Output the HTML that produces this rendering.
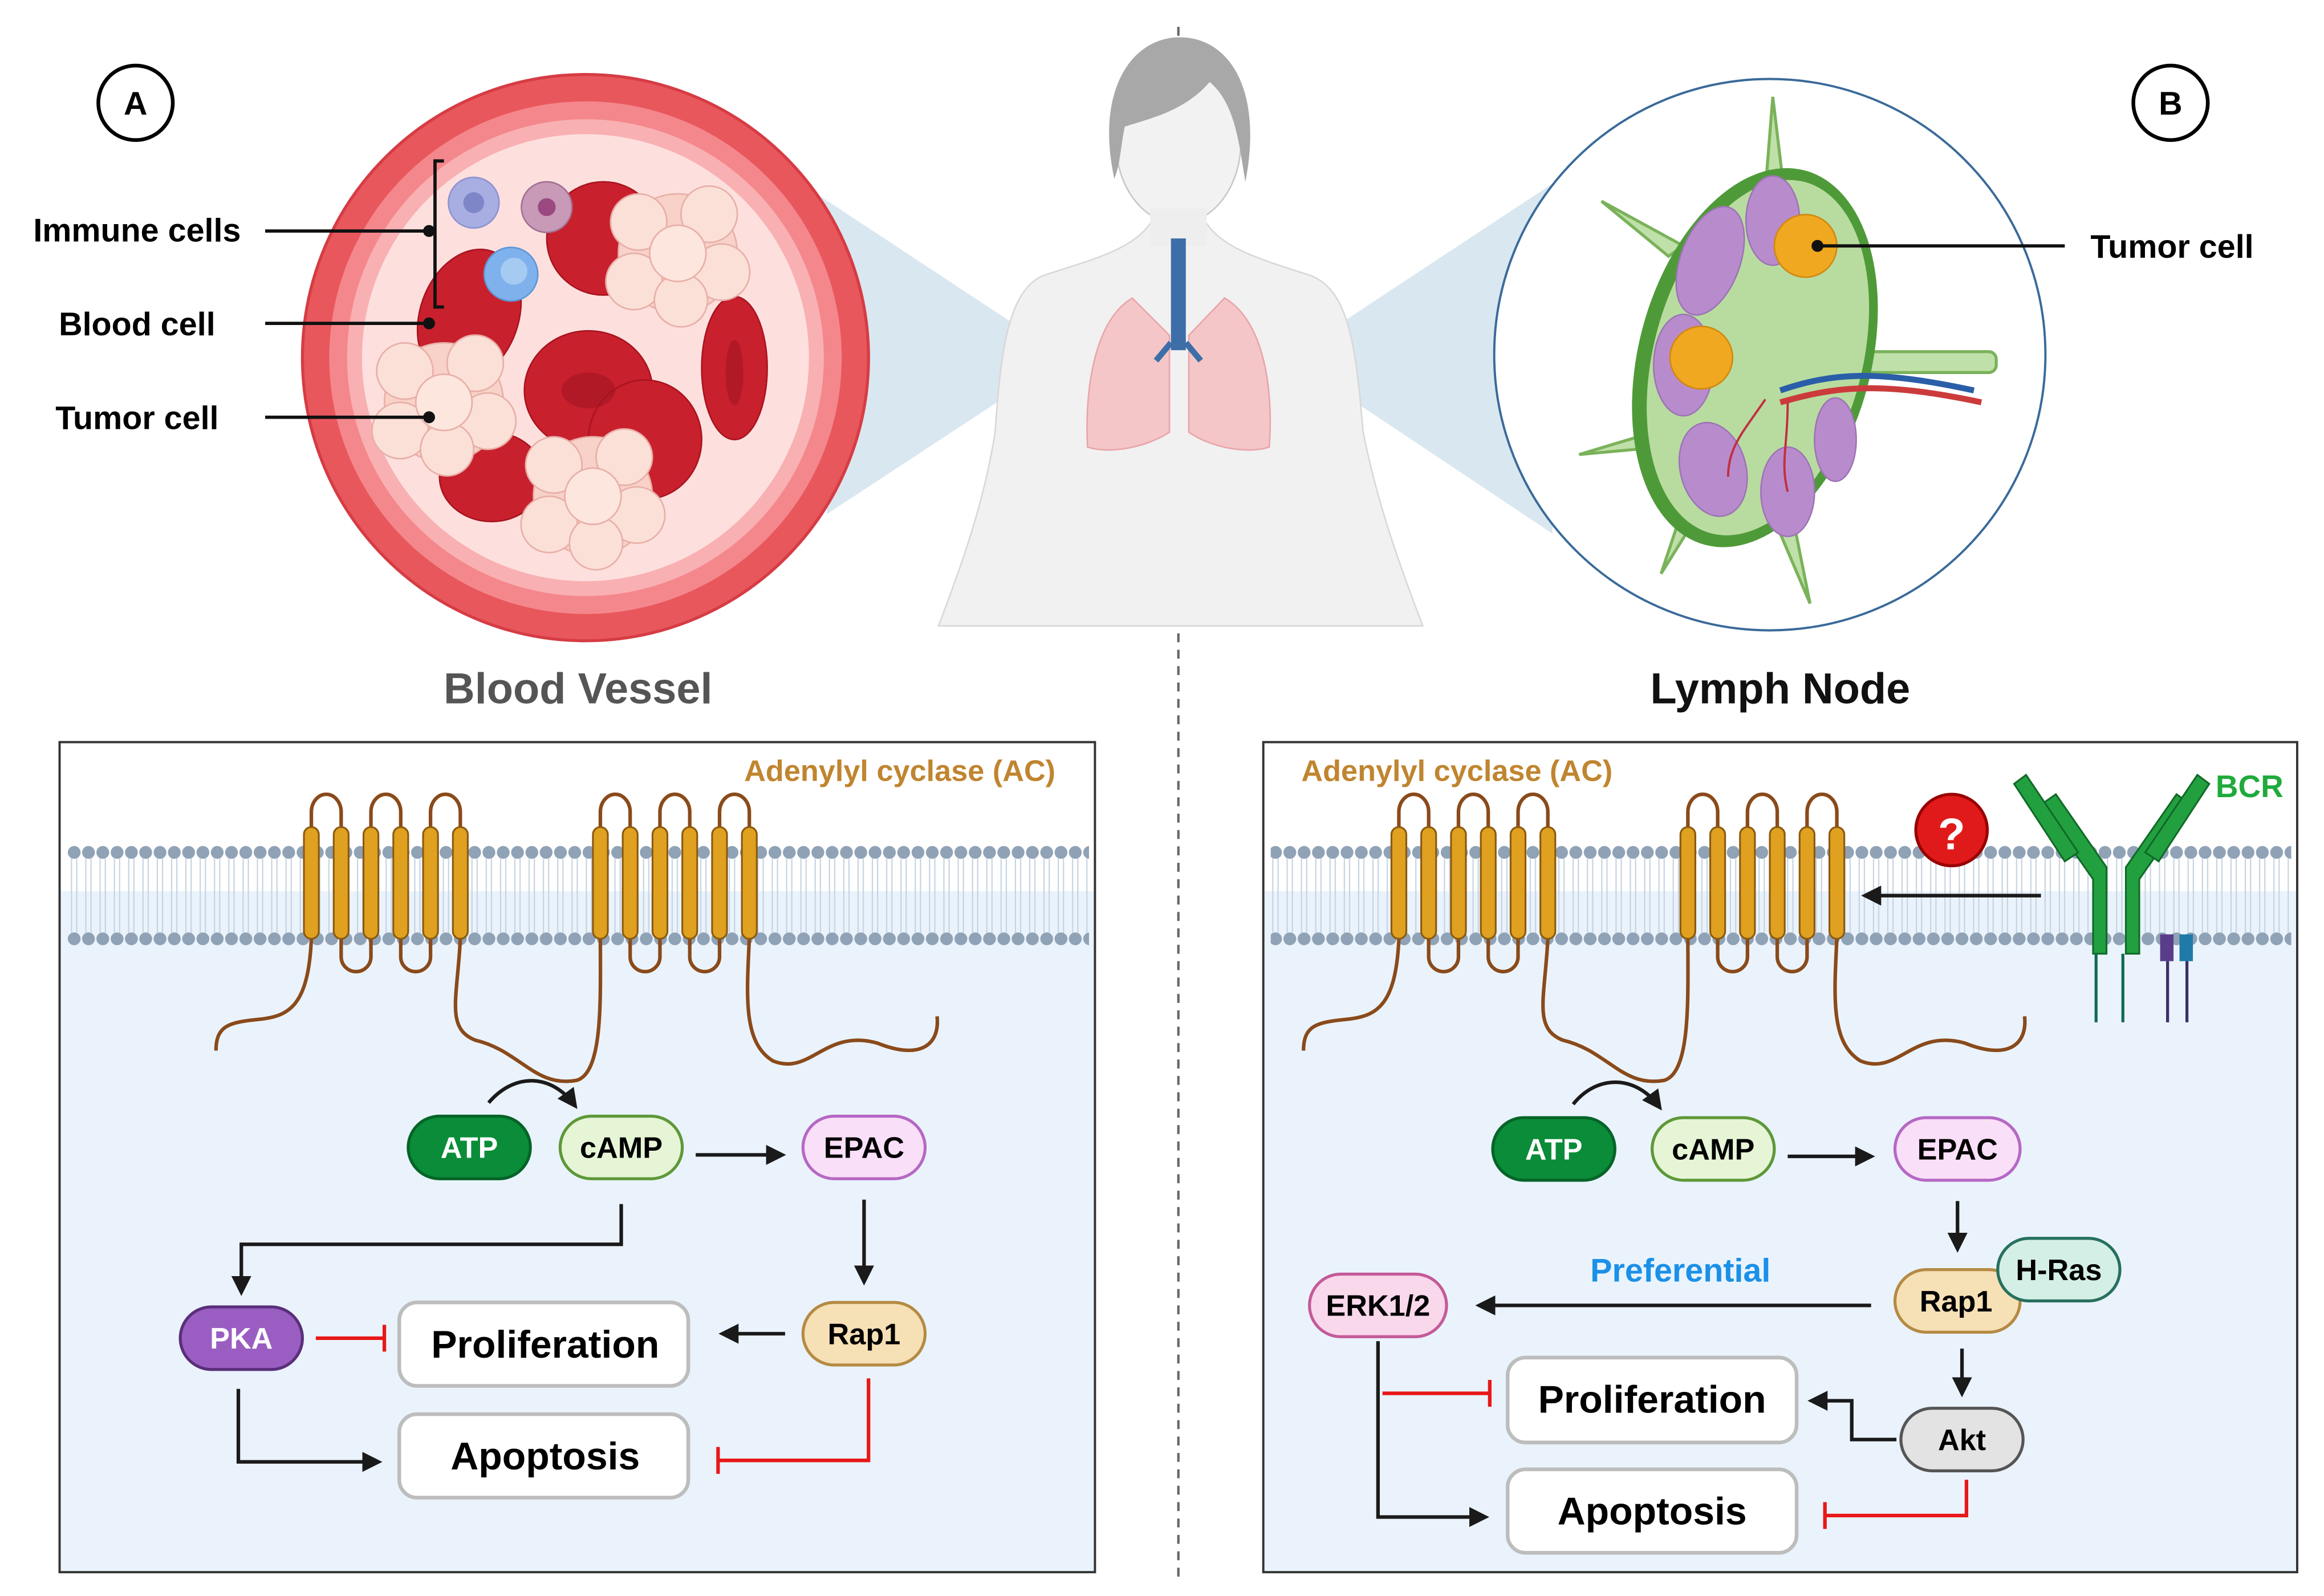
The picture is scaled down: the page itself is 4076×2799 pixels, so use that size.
<!DOCTYPE html>
<html><head><meta charset="utf-8"><style>
html,body{margin:0;padding:0;background:#fff;}
svg{display:block;}
text{font-family:"Liberation Sans Narrow","Liberation Sans",sans-serif;font-weight:bold;}
</style></head><body>
<svg width="4076" height="2799" viewBox="0 0 1560 1071" preserveAspectRatio="none" xmlns="http://www.w3.org/2000/svg">
<defs>
<pattern id="dots" x="45" y="0" width="9.6" height="1071" patternUnits="userSpaceOnUse">
<line x1="3" y1="576" x2="3" y2="626" stroke="#c4d2e0" stroke-width="0.8"/>
<line x1="6.5" y1="576" x2="6.5" y2="626" stroke="#c4d2e0" stroke-width="0.8"/>
<circle cx="4.8" cy="572" r="4.3" fill="#8fa2b6"/>
<circle cx="4.8" cy="630" r="4.3" fill="#8fa2b6"/>
</pattern>
<marker id="ah" viewBox="0 0 10 10" refX="8" refY="5" markerWidth="5.6" markerHeight="5.6" orient="auto"><path d="M0,0 L10,5 L0,10 z" fill="#1a1a1a"/></marker>
<g id="ac" stroke="#8a4a1a" stroke-width="2.4" fill="none">
<path d="M0,555 L0,545 A10,12 0 0 1 20,545 L20,555"/>
<path d="M40,555 L40,545 A10,12 0 0 1 60,545 L60,555"/>
<path d="M80,555 L80,545 A10,12 0 0 1 100,545 L100,555"/>
<path d="M20,630 L20,642 A10,10 0 0 0 40,642 L40,630"/>
<path d="M60,630 L60,642 A10,10 0 0 0 80,642 L80,630"/>
<path d="M194,555 L194,545 A10,12 0 0 1 214,545 L214,555"/>
<path d="M234,555 L234,545 A10,12 0 0 1 254,545 L254,555"/>
<path d="M274,555 L274,545 A10,12 0 0 1 294,545 L294,555"/>
<path d="M214,630 L214,642 A10,10 0 0 0 234,642 L234,630"/>
<path d="M254,630 L254,642 A10,10 0 0 0 274,642 L274,630"/>
<path d="M0,630 C-2,675 -15,682 -35,684 C-55,686 -64,688 -64,705"/>
<path d="M100,630 C98,670 90,690 110,698 C140,705 150,730 178,725 C196,720 194,670 194,630"/>
<path d="M294,630 C292,670 290,700 310,712 C335,722 345,690 380,700 C410,712 422,700 420,682"/>
<g fill="#e0a020" stroke="#8a5a10" stroke-width="1.2">
<rect x="-5" y="555" width="10" height="75" rx="5"/><rect x="15" y="555" width="10" height="75" rx="5"/><rect x="35" y="555" width="10" height="75" rx="5"/><rect x="55" y="555" width="10" height="75" rx="5"/><rect x="75" y="555" width="10" height="75" rx="5"/><rect x="95" y="555" width="10" height="75" rx="5"/>
<rect x="189" y="555" width="10" height="75" rx="5"/><rect x="209" y="555" width="10" height="75" rx="5"/><rect x="229" y="555" width="10" height="75" rx="5"/><rect x="249" y="555" width="10" height="75" rx="5"/><rect x="269" y="555" width="10" height="75" rx="5"/><rect x="289" y="555" width="10" height="75" rx="5"/>
</g>
</g>
<g id="tumor" stroke="#e8b0a8" stroke-width="1">
<circle cx="0" cy="0" r="38" fill="#f8d2c8"/>
<circle cx="-25" cy="-20" r="18" fill="#fbe0d8"/><circle cx="20" cy="-25" r="18" fill="#fbe0d8"/><circle cx="28" cy="12" r="18" fill="#fbe0d8"/><circle cx="-28" cy="18" r="18" fill="#fbe0d8"/><circle cx="2" cy="30" r="17" fill="#fbe0d8"/><circle cx="0" cy="0" r="18" fill="#fde6de"/>
</g>
</defs>

<line x1="791" y1="18" x2="791" y2="1062" stroke="#666" stroke-width="1.6" stroke-dasharray="6,5"/>

<polygon points="545,128 715,240 555,345" fill="#cfe1ec" opacity="0.8"/>
<polygon points="1050,118 865,240 1042,358" fill="#cfe1ec" opacity="0.8"/>

<path d="M700,185 C730,175 760,168 772,150 L810,150 C822,168 850,175 880,185 C905,195 910,230 915,290 C925,340 940,380 955,420 L630,420 C645,380 660,340 668,290 C672,230 678,195 700,185 Z" fill="#f1f1f1" stroke="#d8d8d8" stroke-width="1"/>
<ellipse cx="791" cy="95" rx="42" ry="55" fill="#f2f2f2" stroke="#c8c8c8"/>
<path d="M748,120 C735,60 760,25 792,25 C825,25 848,60 836,122 C832,100 830,70 812,55 C795,75 770,80 755,85 C752,100 752,110 748,120 Z" fill="#a8a8a8"/>
<path d="M772,140 L772,165 L810,165 L810,140" fill="#eee"/>
<path d="M760,200 C735,215 728,260 730,300 C745,305 770,300 785,290 L785,225 Z" fill="#f4c6c8" stroke="#e9a5aa"/>
<path d="M822,200 C848,215 855,260 852,300 C837,305 812,300 798,290 L798,225 Z" fill="#f4c6c8" stroke="#e9a5aa"/>
<rect x="786" y="160" width="10" height="75" fill="#3d6ea8"/>
<path d="M786,230 L776,242 M796,230 L806,242" stroke="#3d6ea8" stroke-width="4"/>

<circle cx="393" cy="240" r="190" fill="#e8575c" stroke="#d63c44" stroke-width="2"/>
<circle cx="393" cy="240" r="172" fill="#f4878c"/>
<circle cx="393" cy="240" r="160" fill="#f9b0b2"/>
<circle cx="393" cy="240" r="150" fill="#fde0de"/>
<g fill="#c9202e" stroke="#a8141f">
<ellipse cx="315" cy="212" rx="33" ry="46" transform="rotate(20 315 212)"/>
<ellipse cx="405" cy="160" rx="38" ry="38"/>
<ellipse cx="395" cy="262" rx="43" ry="40"/>
<ellipse cx="493" cy="247" rx="22" ry="48"/>
<ellipse cx="433" cy="295" rx="38" ry="40"/>
<ellipse cx="330" cy="320" rx="35" ry="30"/>
</g>
<g fill="#9c1220" opacity="0.5"><ellipse cx="395" cy="262" rx="18" ry="12"/><ellipse cx="493" cy="250" rx="6" ry="22"/></g>
<use href="#tumor" transform="translate(455,170) scale(1.05)"/>
<use href="#tumor" transform="translate(298,270) scale(1.05)"/>
<use href="#tumor" transform="translate(398,333) scale(1.05)"/>
<circle cx="318" cy="136" r="17" fill="#a9aee2" stroke="#8c93d0"/><circle cx="318" cy="136" r="7" fill="#7e86c8"/>
<circle cx="367" cy="139" r="17" fill="#c99ab8" stroke="#a07090"/><circle cx="367" cy="139" r="6" fill="#9a4a80"/>
<circle cx="343" cy="184" r="18" fill="#7fb2ec" stroke="#5d97d6"/><circle cx="345" cy="182" r="9" fill="#a6cbf2"/>

<circle cx="91" cy="69" r="25" fill="#fff" stroke="#000" stroke-width="2.5"/>
<text x="91" y="77" font-size="22" text-anchor="middle">A</text>
<text x="92" y="162" font-size="22" text-anchor="middle">Immune cells</text>
<text x="92" y="225" font-size="22" text-anchor="middle">Blood cell</text>
<text x="92" y="288" font-size="22" text-anchor="middle">Tumor cell</text>
<g stroke="#111" stroke-width="2.2" fill="none">
<path d="M178,155 L288,155 M178,217 L288,217 M178,280 L288,280"/>
<path d="M298,108 L292,108 L292,206 L298,206"/>
</g>
<circle cx="288" cy="155" r="4" fill="#111"/><circle cx="288" cy="217" r="4" fill="#111"/><circle cx="288" cy="280" r="4" fill="#111"/>
<text x="388" y="472" font-size="29" text-anchor="middle" fill="#555">Blood Vessel</text>

<ellipse cx="1188" cy="238" rx="185" ry="185" fill="#fff" stroke="#3a6a9a" stroke-width="1.5"/>
<g stroke="#7ab25a" stroke-width="2" fill="#bfe0a8">
<path d="M1190,65 L1196,115 L1186,115 Z"/>
<path d="M1075,135 L1130,165 L1120,172 Z"/>
<path d="M1060,305 L1110,290 L1115,300 Z"/>
<path d="M1115,385 L1130,340 L1140,345 Z"/>
<path d="M1215,405 L1205,355 L1195,358 Z"/>
<rect x="1230" y="236" width="110" height="14" rx="5"/>
</g>
<ellipse cx="1178" cy="240" rx="78" ry="130" transform="rotate(15 1178 240)" fill="#4f9a38"/>
<ellipse cx="1180" cy="240" rx="70" ry="122" transform="rotate(15 1180 240)" fill="#b8dca0"/>
<g fill="#b88ccc" stroke="#9d74b5">
<ellipse cx="1148" cy="175" rx="20" ry="38" transform="rotate(20 1148 175)"/>
<ellipse cx="1190" cy="148" rx="18" ry="30"/>
<ellipse cx="1130" cy="245" rx="20" ry="34"/>
<ellipse cx="1150" cy="315" rx="22" ry="32" transform="rotate(-15 1150 315)"/>
<ellipse cx="1200" cy="330" rx="18" ry="30"/>
<ellipse cx="1232" cy="295" rx="14" ry="28"/>
</g>
<circle cx="1192" cy="240" r="30" fill="#b8dca0"/>
<path d="M1195,270 C1230,260 1260,255 1330,270" stroke="#cc3b3b" stroke-width="4" fill="none"/>
<path d="M1195,262 C1230,250 1260,248 1325,262" stroke="#2a5ea8" stroke-width="4" fill="none"/>
<path d="M1185,268 C1170,290 1160,300 1160,320 M1200,270 C1200,300 1195,310 1200,330" stroke="#c03040" stroke-width="1.5" fill="none"/>
<g fill="#f0a820" stroke="#d08810"><circle cx="1212" cy="165" r="21"/><circle cx="1142" cy="240" r="21"/></g>
<line x1="1220" y1="165" x2="1386" y2="165" stroke="#111" stroke-width="2.2"/><circle cx="1220" cy="165" r="4" fill="#111"/>
<text x="1458" y="173" font-size="22" text-anchor="middle">Tumor cell</text>
<circle cx="1457" cy="69" r="25" fill="#fff" stroke="#000" stroke-width="2.5"/>
<text x="1457" y="77" font-size="22" text-anchor="middle">B</text>
<text x="1195" y="472" font-size="29" text-anchor="middle" fill="#111">Lymph Node</text>

<rect x="40" y="498" width="695" height="557" fill="#eaf3fc"/>
<rect x="40" y="498" width="695" height="100" fill="#fff"/>
<rect x="45" y="566" width="686" height="70" fill="url(#dots)"/>
<rect x="40" y="498" width="695" height="557" fill="none" stroke="#333" stroke-width="1.5"/>
<use href="#ac" transform="translate(209,0)"/>
<text x="604" y="524" font-size="20" text-anchor="middle" fill="#c08530">Adenylyl cyclase (AC)</text>

<rect x="848" y="498" width="694" height="557" fill="#eaf3fc"/>
<rect x="848" y="498" width="694" height="100" fill="#fff"/>
<rect x="853" y="566" width="685" height="70" fill="url(#dots)"/>
<rect x="848" y="498" width="694" height="557" fill="none" stroke="#333" stroke-width="1.5"/>
<use href="#ac" transform="translate(939,0)"/>
<text x="978" y="524" font-size="20" text-anchor="middle" fill="#c08530">Adenylyl cyclase (AC)</text>
<text x="1510" y="535" font-size="21" text-anchor="middle" fill="#1faa3c">BCR</text>
<g fill="#22a040" stroke="#106a28" stroke-width="1.2">
<path d="M1405,640 L1405,590 L1370,540 L1380,533 L1414,582 L1414,640 Z"/>
<path d="M1427,640 L1427,582 L1461,533 L1471,540 L1436,590 L1436,640 Z"/>
<path d="M1360,520 L1395,572 L1386,578 L1352,526 Z"/>
<path d="M1475,520 L1440,572 L1449,578 L1483,526 Z"/>
</g>
<path d="M1407,640 L1407,686 M1425,640 L1425,686" stroke="#106a50" stroke-width="2"/>
<rect x="1450" y="627" width="9" height="18" fill="#5a3d8a"/><rect x="1463" y="627" width="9" height="18" fill="#1f7aa8"/>
<path d="M1455,645 L1455,686 M1468,645 L1468,686" stroke="#3a2f6a" stroke-width="2"/>
<circle cx="1310" cy="557" r="24" fill="#e01a1a" stroke="#900" stroke-width="2"/>
<text x="1310" y="570" font-size="30" text-anchor="middle" fill="#fff">?</text>
<line x1="1370" y1="601" x2="1252" y2="601" stroke="#1a1a1a" stroke-width="2.4" marker-end="url(#ah)"/>

<g font-size="20" text-anchor="middle">
<rect x="274" y="749" width="82" height="42" rx="21" fill="#0a8c38" stroke="#056428" stroke-width="2"/><text x="315" y="777" fill="#fff">ATP</text>
<rect x="376" y="749" width="82" height="42" rx="21" fill="#e6f5d6" stroke="#5e9838" stroke-width="2"/><text x="417" y="777">cAMP</text>
<rect x="539" y="749" width="82" height="42" rx="21" fill="#fadff8" stroke="#b668c4" stroke-width="2"/><text x="580" y="777">EPAC</text>
<rect x="539" y="874" width="82" height="42" rx="21" fill="#f6e0b6" stroke="#b58a44" stroke-width="2"/><text x="580" y="902">Rap1</text>
<rect x="121" y="877" width="82" height="42" rx="21" fill="#9a5ec2" stroke="#5a2f7a" stroke-width="2"/><text x="162" y="905" fill="#fff">PKA</text>
<rect x="1002" y="750" width="82" height="42" rx="21" fill="#0a8c38" stroke="#056428" stroke-width="2"/><text x="1043" y="778" fill="#fff">ATP</text>
<rect x="1109" y="750" width="82" height="42" rx="21" fill="#e6f5d6" stroke="#5e9838" stroke-width="2"/><text x="1150" y="778">cAMP</text>
<rect x="1272" y="750" width="84" height="42" rx="21" fill="#fadff8" stroke="#b668c4" stroke-width="2"/><text x="1314" y="778">EPAC</text>
<rect x="1272" y="852" width="84" height="42" rx="21" fill="#f6e0b6" stroke="#b58a44" stroke-width="2"/><text x="1313" y="880">Rap1</text>
<rect x="1341" y="831" width="82" height="42" rx="21" fill="#d4efe6" stroke="#27705e" stroke-width="2"/><text x="1382" y="859">H-Ras</text>
<rect x="879" y="855" width="92" height="42" rx="21" fill="#f9d8ec" stroke="#c45a98" stroke-width="2"/><text x="925" y="883">ERK1/2</text>
<rect x="1276" y="945" width="82" height="42" rx="21" fill="#e3e3e3" stroke="#555" stroke-width="2"/><text x="1317" y="973">Akt</text>
</g>
<g fill="#fff" stroke="#bdbdbd" stroke-width="2.5">
<rect x="268" y="874" width="194" height="56" rx="12"/><rect x="268" y="949" width="194" height="56" rx="12"/>
<rect x="1012" y="911" width="194" height="57" rx="12"/><rect x="1012" y="986" width="194" height="56" rx="12"/>
</g>
<g font-size="26" text-anchor="middle">
<text x="366" y="911">Proliferation</text><text x="366" y="986">Apoptosis</text>
<text x="1109" y="948">Proliferation</text><text x="1109" y="1023">Apoptosis</text>
</g>
<text x="1128" y="860" font-size="22" text-anchor="middle" fill="#1a90e8">Preferential</text>

<g stroke="#1a1a1a" stroke-width="2.4" fill="none" marker-end="url(#ah)">
<path d="M328,740 C345,720 370,720 386,742"/>
<path d="M467,775 L525,775"/>
<path d="M417,808 L417,835 L162,835 L162,867"/>
<path d="M580,805 L580,860"/>
<path d="M527,895 L485,895"/>
<path d="M160,932 L160,981 L254,981"/>
<path d="M1056,741 C1072,721 1098,721 1114,743"/>
<path d="M1200,776 L1256,776"/>
<path d="M1314,806 L1314,838"/>
<path d="M1256,876 L993,876"/>
<path d="M1317,905 L1317,935"/>
<path d="M1273,966 L1243,966 L1243,940 L1216,940"/>
<path d="M925,900 L925,1018 L997,1018"/>
</g>
<g stroke="#e81818" stroke-width="2.4" fill="none">
<path d="M212,898 L258,898 M258,889 L258,907"/>
<path d="M583,925 L583,980 L482,980 M482,971 L482,989"/>
<path d="M928,935 L1000,935 M1000,926 L1000,944"/>
<path d="M1320,993 L1320,1017 L1225,1017 M1225,1008 L1225,1026"/>
</g>
</svg>
</body></html>
